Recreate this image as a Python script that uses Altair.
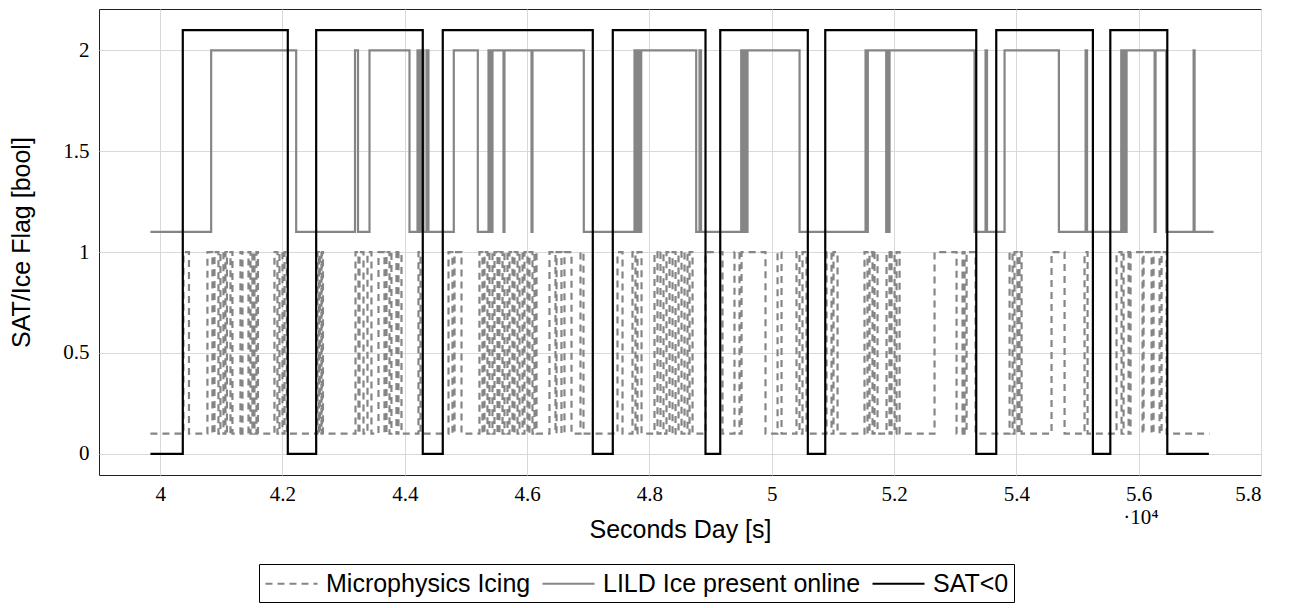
import altair as alt
import pandas as pd

# ---- data (seconds of day) ----
start_t = 39841
sat_end_t = 57148
lild_end_t = 57225
mp_end_t = 57159

# SAT<0 : 0 -> 2.1 pulses
sat_up = [40370, 42551, 44621, 47401, 49158, 50875, 53671, 55536]
sat_down = [42087, 44294, 47074, 48917, 50590, 53344, 55251, 56468]

# LILD Ice present online : 1.1 -> 2 pulses
lild_up = [40834, 43186, 43423, 44208, 44273, 44355, 44801, 45369, 45401, 45434,
           45630, 46088, 47756, 47822, 47866, 48819, 49501, 49555, 49604, 51534,
           51571, 51894, 51926, 53496, 53807, 55132, 55715, 55769, 55802, 56276, 56898]
lild_down = [42224, 43235, 44077, 44241, 44306, 44387, 45194, 45385, 45418, 45614,
             46072, 46927, 47789, 47838, 48765, 48844, 49522, 49588, 50455, 51550,
             51872, 51910, 53316, 53520, 54695, 55156, 55736, 55785, 56260, 56451, 56914]

# Microphysics Icing : 0.1 -> 1 pulses
mp_up = [40381, 40773, 40888, 40986, 41068, 41150, 41313, 41444, 41509, 41575,
         41869, 41951, 42033, 42572, 42613, 42646, 43194, 43259, 43390, 43570,
         43701, 43782, 43897, 44224, 44715, 44813, 45221, 45303, 45385, 45467,
         45548, 45630, 45712, 45794, 45876, 45957, 46039, 46121, 46366, 46481,
         46611, 46873, 47478, 47723, 47805, 48083, 48181, 48279, 48378, 48476,
         48574, 48656, 48917, 49391, 49506, 50095, 50405, 50503, 50896,
         51010, 51517, 51599, 51681, 51877, 51959, 52041, 52662, 53120, 53186,
         53889, 53970, 54052, 54575, 55115, 55638, 55753, 55867, 56080, 56243, 56374]
mp_down = [40471, 40855, 40953, 41035, 41092, 41182, 41346, 41477, 41542, 41599,
           41918, 42000, 42073, 42597, 42638, 42662, 43243, 43325, 43455, 43668,
           43750, 43864, 43946, 44257, 44780, 44927, 45270, 45352, 45434, 45516,
           45598, 45679, 45761, 45843, 45925, 46006, 46088, 46154, 46464, 46562,
           46726, 46922, 47560, 47772, 47871, 48132, 48230, 48329, 48427, 48525,
           48623, 48705, 49195, 49473, 49898, 50160, 50454, 50569, 50978,
           51076, 51566, 51648, 51730, 51926, 52008, 52090, 53022, 53153, 53333,
           53938, 54019, 54085, 54788, 55164, 55720, 55835, 56063, 56211, 56342, 56456]

series_names = ["Microphysics Icing", "LILD Ice present online", "SAT<0"]
levels = {
    "Microphysics Icing": (0.1, 1.0),
    "LILD Ice present online": (1.1, 2.0),
    "SAT<0": (0.0, 2.1),
}
x_ticks = [4.0, 4.2, 4.4, 4.6, 4.8, 5.0, 5.2, 5.4, 5.6, 5.8]
y_ticks = [0, 0.5, 1, 1.5, 2]


def step_rows(name, ups, downs, end):
    low, high = levels[name]
    pts = [(start_t, low)]
    for u, d in zip(ups, downs):
        pts.append((u, high))
        pts.append((d, low))
    pts.append((end, low))
    return [{"t": t / 1e4, "v": v, "series": name} for t, v in pts]


rows = (step_rows("Microphysics Icing", mp_up, mp_down, mp_end_t)
        + step_rows("LILD Ice present online", lild_up, lild_down, lild_end_t)
        + step_rows("SAT<0", sat_up, sat_down, sat_end_t))
df = pd.DataFrame(rows)

SANS = "Liberation Sans"
SERIF = "Liberation Serif"
SANS_SIZE = 25
TICK_SIZE = 21

x_enc = alt.X("t:Q", title="Seconds Day [s]",
              scale=alt.Scale(domain=[3.9, 5.8], nice=False, zero=False),
              axis=alt.Axis(values=x_ticks, labelExpr="format(datum.value, '.2~f')",
                            grid=True, ticks=False, domain=False,
                            labelFont=SERIF, labelFontSize=TICK_SIZE, labelPadding=8,
                            titleFont=SANS, titleFontSize=SANS_SIZE, titleFontWeight="normal",
                            titlePadding=13, titleColor="black", labelColor="black"))
y_enc = alt.Y("v:Q", title="SAT/Ice Flag [bool]",
              scale=alt.Scale(domain=[-0.105, 2.205], nice=False, zero=False),
              axis=alt.Axis(values=y_ticks, labelExpr="format(datum.value, '.1~f')",
                            grid=True, ticks=False, domain=False,
                            labelFont=SERIF, labelFontSize=TICK_SIZE, labelPadding=10,
                            titleFont=SANS, titleFontSize=SANS_SIZE, titleFontWeight="normal",
                            titlePadding=28, titleColor="black", labelColor="black"))

legend = alt.Legend(orient="none", legendX=160, legendY=555, direction="horizontal",
                    title=None, symbolType="M-1,0H3", symbolSize=676,
                    labelFont=SANS, labelFontSize=SANS_SIZE, labelColor="black", labelLimit=0,
                    strokeColor="black", padding=5, columnPadding=7, labelOffset=33)

color_enc = alt.Color("series:N", scale=alt.Scale(domain=series_names,
                      range=["#858585", "#858585", "#000000"]), legend=legend)
dash_enc = alt.StrokeDash("series:N", scale=alt.Scale(domain=series_names,
                          range=[[7, 5], [1, 0], [1, 0]]))
width_enc = alt.StrokeWidth("series:N", scale=alt.Scale(domain=series_names,
                            range=[2.2, 2.2, 2.7]))

base = alt.Chart(df)
layers = []
for name in series_names:
    layers.append(
        base.transform_filter(alt.datum.series == name)
        .mark_line(interpolate="step-after", strokeCap="butt", strokeJoin="miter")
        .encode(x=x_enc, y=y_enc, color=color_enc, strokeDash=dash_enc,
                strokeWidth=width_enc)
    )

exp_label = alt.Chart(pd.DataFrame({"lbl": ["·10⁴"]})).mark_text(
    font=SERIF, fontSize=21, color="black", align="center", baseline="alphabetic"
).encode(text="lbl:N", x=alt.value(1042), y=alt.value(515))

chart = alt.layer(*layers, exp_label).properties(
    width=1162, height=466,
    padding={"left": 99, "top": 9, "right": 28, "bottom": 133},
    autosize=alt.AutoSizeParams(type="none"),
).configure_view(stroke="#222222", strokeWidth=1).configure_axis(
    gridColor="#d9d9d9", gridWidth=1
)

chart.save("out.html", embed_options={"renderer": "svg", "actions": False})
